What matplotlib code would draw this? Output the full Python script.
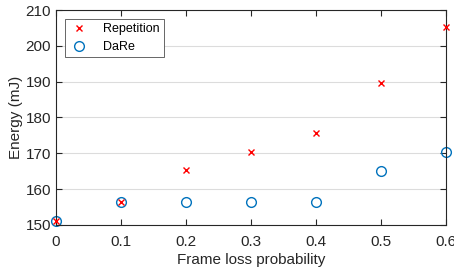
import matplotlib.pyplot as plt

plt.rcParams['font.family'] = ['Liberation Sans', 'DejaVu Sans']

loss = [0, 0.1, 0.2, 0.3, 0.4, 0.5, 0.6]
repetition = [151.2, 156.5, 165.2, 170.5, 175.7, 189.5, 205.2]
dare = [151.2, 156.5, 156.5, 156.5, 156.5, 165.1, 170.4]

fig = plt.figure(figsize=(4.54, 2.71), dpi=100)
ax = fig.add_axes([0.123, 0.170, 0.859, 0.793])

ax.plot(loss, repetition, 'x', color='#ff0000', markersize=4.5, markeredgewidth=1.0,
        label='Repetition', clip_on=False, zorder=3)
ax.plot(loss, dare, 'o', color='#0072bd', markerfacecolor='none', markersize=7,
        markeredgewidth=1.0, label='DaRe', clip_on=False, zorder=2)

ax.set_xlim(0, 0.6)
ax.set_ylim(150, 210)
ax.set_xticks(loss)
ax.set_xticklabels(['0', '0.1', '0.2', '0.3', '0.4', '0.5', '0.6'])
ax.set_yticks(range(150, 211, 10))
ax.yaxis.grid(True, color='#dcdcdc', linewidth=0.8)
ax.set_axisbelow(True)
ax.tick_params(direction='in', top=True, right=True, labelsize=11, colors='#262626',
               length=4, width=0.8)
ax.tick_params(axis='x', pad=7)
for s in ax.spines.values():
    s.set_color('#262626')
    s.set_linewidth(0.8)

ax.set_xlabel('Frame loss probability', fontsize=11, color='#262626', labelpad=3)
ax.set_ylabel('Energy (mJ)', fontsize=11, color='#262626', labelpad=2)

leg = ax.legend(loc='upper left', bbox_to_anchor=(0.023, 0.958), borderaxespad=0,
                fontsize=9, fancybox=False, edgecolor='#4d4d4d', framealpha=1,
                handlelength=1.5, handletextpad=1.2, borderpad=0.35, labelspacing=0.45)
leg.get_frame().set_linewidth(0.6)

fig.savefig('out.png', dpi=100)
